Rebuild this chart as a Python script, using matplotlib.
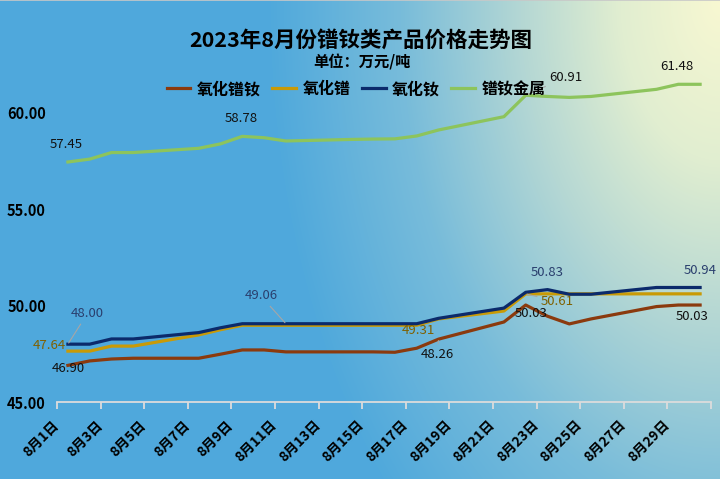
import numpy as np
import matplotlib.pyplot as plt
import matplotlib.transforms as mtransforms
from matplotlib.lines import Line2D

plt.rcParams['font.family'] = ['Noto Sans CJK SC', 'DejaVu Sans']

# 交易日 (8月)
days = [1, 2, 3, 4, 7, 8, 9, 10, 11, 14, 15, 16, 17, 18, 21, 22, 23, 24, 25, 28, 29, 30]

prnd_oxide = [46.90, 47.13, 47.23, 47.27, 47.27, 47.48, 47.70, 47.70, 47.60, 47.60, 47.60,
              47.58, 47.79, 48.26, 49.15, 50.03, 49.45, 49.05, 49.31, 49.95, 50.03, 50.03]
pr_oxide = [47.64, 47.64, 47.90, 47.90, 48.48, 48.75, 48.98, 48.98, 48.98, 48.98, 48.98,
            48.98, 48.98, 49.31, 49.72, 50.61, 50.61, 50.61, 50.61, 50.61, 50.61, 50.61]
nd_oxide = [48.00, 48.00, 48.27, 48.27, 48.60, 48.85, 49.06, 49.06, 49.06, 49.06, 49.06,
            49.06, 49.06, 49.34, 49.87, 50.69, 50.83, 50.59, 50.59, 50.94, 50.94, 50.94]
prnd_metal = [57.45, 57.60, 57.94, 57.94, 58.16, 58.39, 58.78, 58.71, 58.54, 58.62, 58.64,
              58.65, 58.80, 59.11, 59.80, 60.91, 60.85, 60.80, 60.85, 61.22, 61.48, 61.48]

names = ['氧化镨钕', '氧化镨', '氧化钕', '镨钕金属']
series = [prnd_oxide, pr_oxide, nd_oxide, prnd_metal]
colors = ['#8B3A0E', '#C99A06', '#0B2A6B', '#8DC45C']
label_colors = ['#111111', '#7F6000', '#2A3F6E', '#111111']

tick_days = list(range(1, 30, 2))
tick_labels = [f'8月{d}日' for d in tick_days]

# 数据标签: (系列, 日期, 偏移pt, 引线)
data_labels = [
    (3, 1, (-1, 12.5), False), (3, 9, (-1, 13), False), (3, 22, (29, 13), True), (3, 29, (-1, 12.5), False),
    (2, 1, (14, 22), True), (2, 11, (-18, 20), True), (2, 23, (0, 12), False), (2, 30, (0, 12), False),
    (1, 1, (-13.5, 4), False), (1, 18, (-14.5, -8.5), False), (1, 22, (23, -5.6), True),
    (0, 1, (0, -2), False), (0, 18, (-1, -11), True), (0, 22, (4, -6), False), (0, 30, (-6, -8.6), False),
]

fig = plt.figure(figsize=(7.2, 4.79), dpi=100)

# 背景渐变
H, W = 479, 720
yy, xx = np.mgrid[0:H, 0:W]
d = np.sqrt((xx - W) ** 2 + (yy / 1.6) ** 2)
stops = [0, 100, 200, 320, 450, 2000]
cols = np.array([[248, 248, 210], [225, 238, 208], [180, 215, 212], [120, 188, 218],
                 [80, 169, 220], [77, 168, 220]]) / 255
img = np.stack([np.interp(d, stops, cols[:, k]) for k in range(3)], axis=-1)
bg = fig.add_axes([0, 0, 1, 1], zorder=-1)
bg.imshow(img, aspect='auto')
bg.axis('off')
fig.add_artist(Line2D([0, 1], [0.999, 0.999], color='#C8C8C8', lw=1.2))

ax = fig.add_axes([57 / 720, 77 / 479, 654 / 720, 347 / 479])
ax.set_facecolor('none')

for vals, name, c in zip(series, names, colors):
    ax.plot(days, vals, color=c, lw=2.3, label=name, solid_joinstyle='round')

for si, day, off, leader in data_labels:
    v = series[si][days.index(day)]
    kw = {}
    if leader:
        kw['arrowprops'] = dict(arrowstyle='-', color='#A6A6A6', lw=0.8, shrinkA=1, shrinkB=1)
    ax.annotate(f'{v:.2f}', (day, v), xytext=off, textcoords='offset points',
                ha='center', va='center', fontsize=9.5, color=label_colors[si], **kw)

ax.set_xlim(0.5, 30.5)
ax.set_ylim(45, 63)
ax.set_yticks([45, 50, 55, 60])
ax.set_yticklabels([f'{v:.2f}' for v in [45, 50, 55, 60]], fontsize=10.5, fontweight='bold')
ax.set_xticks(np.arange(0.5, 31, 2))
ax.set_xticklabels(tick_labels + [''], fontsize=10, fontweight='bold',
                   rotation=45, ha='right', va='center', rotation_mode='anchor')
shift = mtransforms.ScaledTranslation(-2.5 / 72, 0, fig.dpi_scale_trans)
for lab in ax.get_xticklabels():
    lab.set_transform(lab.get_transform() + shift)

for s in ['top', 'right', 'left']:
    ax.spines[s].set_visible(False)
ax.spines['bottom'].set_color('#DCDCDC')
ax.spines['bottom'].set_linewidth(1.3)
ax.tick_params(axis='x', direction='out', length=5, width=1.3, color='#DCDCDC', pad=10)
ax.tick_params(axis='y', length=0, pad=8)

fig.text(361 / 720, 1 - 41 / 479, '2023年8月份镨钕类产品价格走势图', ha='center', va='center',
         fontsize=15.5, fontweight='bold')
fig.text(362 / 720, 1 - 62 / 479, '单位：万元/吨', ha='center', va='center',
         fontsize=11, fontweight='bold')

leg = fig.legend(loc='center', bbox_to_anchor=(356 / 720, 1 - 89 / 479), ncol=4, frameon=False,
                 prop={'size': 11.5, 'weight': 'bold'}, handlelength=1.5, handletextpad=0.4,
                 columnspacing=0.7)

fig.savefig('out.png', dpi=100)
